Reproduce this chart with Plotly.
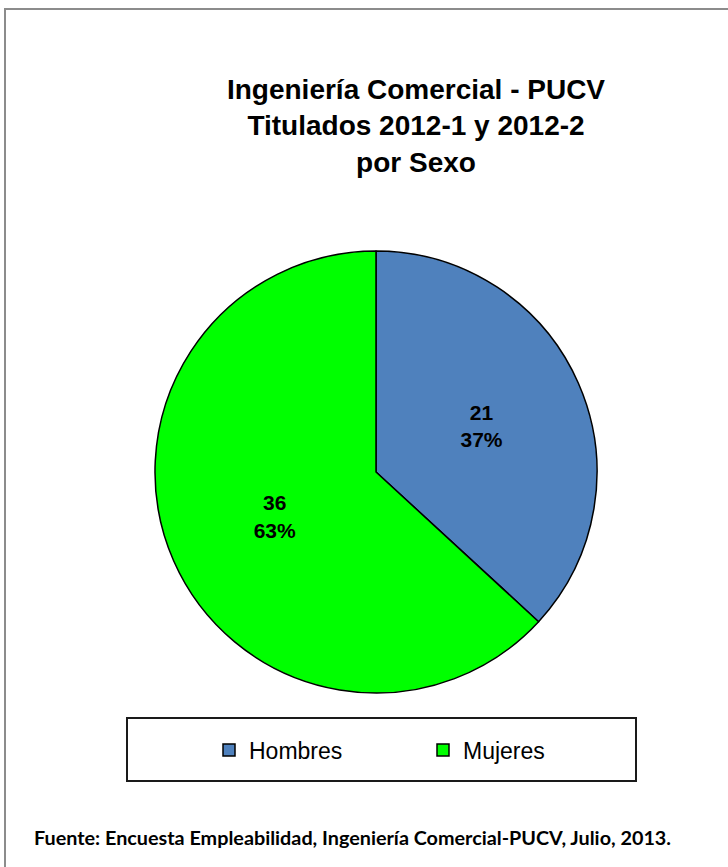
import plotly.graph_objects as go

# --- datos ---
categorias = ["Hombres", "Mujeres"]
titulados = [21, 36]
colores = ["#4F81BD", "#00FF00"]

W, H = 728, 867

titulo = "Ingeniería Comercial - PUCV<br>Titulados 2012-1 y 2012-2<br>por Sexo"
fuente = "Fuente: Encuesta Empleabilidad, Ingeniería Comercial-PUCV, Julio, 2013."

fig = go.Figure(
    go.Pie(
        labels=categorias,
        values=titulados,
        sort=False,
        direction="clockwise",
        rotation=0,
        marker=dict(colors=colores, line=dict(color="black", width=1.5)),
        texttemplate="%{value}<br>%{percent:.0%}",
        textposition="inside",
        insidetextorientation="horizontal",
        textfont=dict(family="Liberation Sans, Arial", size=21, color="black", weight="bold"),
        hoverinfo="label+value+percent",
        domain=dict(x=[155 / W, 597 / W], y=[1 - 693 / H, 1 - 251 / H]),
    )
)

fig.update_layout(
    width=W,
    height=H,
    margin=dict(l=0, r=0, t=0, b=0),
    paper_bgcolor="white",
    font=dict(family="Liberation Sans, Arial", color="black"),
    title=dict(
        text=titulo,
        x=416 / W,
        xanchor="center",
        xref="paper",
        y=1 - 99 / H,
        yanchor="middle",
        yref="paper",
        font=dict(size=28, weight="bold"),
    ),
    legend=dict(
        orientation="h",
        x=209 / W,
        xanchor="left",
        y=1 - 750 / H,
        yanchor="middle",
        font=dict(size=23),
        entrywidth=169,
        bgcolor="rgba(0,0,0,0)",
    ),
    shapes=[
        # marco de la leyenda
        dict(type="rect", xref="paper", yref="paper",
             x0=127 / W, x1=636 / W, y0=1 - 781 / H, y1=1 - 718 / H,
             line=dict(color="#1a1a1a", width=2)),
        # borde exterior del gráfico
        dict(type="rect", xref="paper", yref="paper",
             x0=5 / W, x1=1.02, y0=-0.02, y1=1 - 9 / H,
             line=dict(color="#8c8c8c", width=2)),
    ],
    annotations=[
        dict(text=fuente, xref="paper", yref="paper",
             x=32 / W, xanchor="left", y=1 - 837 / H, yanchor="middle",
             showarrow=False,
             font=dict(family="Lato", size=19.8, weight="bold", color="black")),
    ],
)

# sin margen del body para que el gráfico empiece en (0,0)
fig.write_html("out.html", config={"displayModeBar": False},
               post_script="document.body.style.margin='0';")
